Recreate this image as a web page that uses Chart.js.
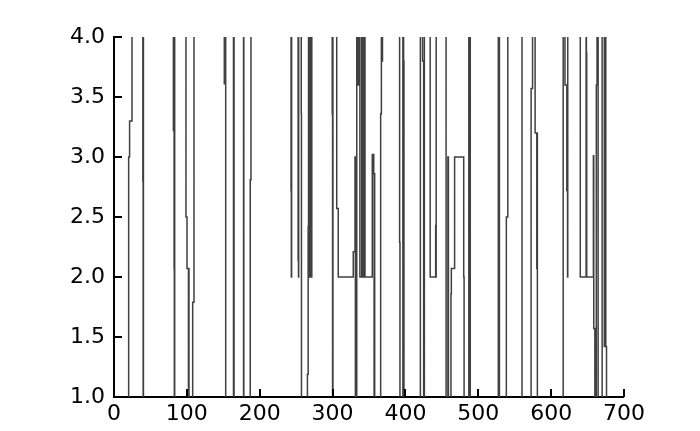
<!DOCTYPE html>
<html>
<head>
<meta charset="utf-8">
<script src="https://cdn.jsdelivr.net/npm/chart.js@4/dist/chart.umd.min.js"></script>
<style>
  html, body { margin: 0; padding: 0; background: #fff; }
  canvas { display: block; }
</style>
</head>
<body>
<canvas id="step_chart" width="700" height="431"></canvas>
<script>
"use strict";

// step series: x positions where the value changes, and the new value.
// 5 = above the plot, 0 = below it (clipped by the axes)
const stepX = [
	0, 20.1, 21.4, 24.7, 39.6, 40.0, 40.4, 81.5, 82.5, 82.8, 83.3,
	98.8, 100.2, 102.2, 102.6, 102.9, 108, 109.8, 151.4, 152.2, 153.3,
	164, 164.8, 177.8, 178.2, 187, 188, 243, 243.4, 243.8, 252.7, 253.2,
	253.5, 257, 257.3, 265.5, 266.5, 267, 268.5, 269.5, 270.5, 271.5,
	299.5, 300, 300.5, 305.7, 307.8, 328.4, 330.8, 331.3, 333.2, 334.5,
	335.5, 337.5, 340, 341, 343, 344.5, 354.5, 356.5, 357, 357.4, 357.8,
	366, 367, 368, 368.5, 392, 392.5, 396.5, 397.5, 398, 420.5, 423.5,
	425, 426, 434, 441.5, 441.8, 442.2, 455.8, 458.3, 459, 462.5, 463,
	467.5, 480, 480.5, 487, 488.5, 489, 527.5, 528.5, 529, 538.5, 540.5,
	560, 572.5, 574.5, 578, 580.3, 580.7, 581.1, 616.5, 619, 621.5, 622,
	622.5, 622.8, 640, 648, 648.4, 648.8, 658, 658.5, 660, 662, 663,
	664.5, 670, 673, 674, 675, 676, 700
];
const stepY = [
	0, 3.0, 3.3, 5, 2.8, 0, 5, 3.22, 2.07, 0, 5,
	2.5, 2.07, 0, 2.07, 0, 1.79, 5, 3.61, 5, 0,
	5, 0, 5, 0, 2.81, 5, 2.72, 2.0, 5, 2.14, 2.0,
	5, 3.36, 0, 1.19, 2.42, 5, 2.0, 5, 2.0, 5,
	3.36, 0, 5, 2.57, 2.0, 2.21, 3.0, 0, 5, 3.6,
	5, 2.0, 5, 2.0, 5, 2.0, 3.02, 2.86, 0, 2.86, 0,
	3.36, 5, 3.8, 5, 2.29, 0, 5, 3.8, 0, 5, 3.8,
	0, 5, 2.0, 2.43, 2.0, 5, 0, 3.0, 0, 1.86, 2.07,
	3.0, 2.0, 0, 5, 0, 5, 0, 5, 0, 2.5, 5,
	0, 3.57, 5, 3.2, 2.07, 3.2, 0, 5, 3.6, 2.72, 3.6,
	2.0, 5, 2.0, 5, 3.87, 2.0, 3.01, 1.57, 0, 3.6, 5,
	0, 5, 1.42, 5, 1.42, 0, 0
];
const xTicks = [0, 100, 200, 300, 400, 500, 600, 700];
const yTicks = [1.0, 1.5, 2.0, 2.5, 3.0, 3.5, 4.0];

const labelFont = { family: "DejaVu Sans", size: 22 };

const points = stepX.map((x, i) => ({ x: x, y: stepY[i] }));

// ticks point into the plot, so they are drawn here instead of by the scales
const inwardTicks = {
	id: "inwardTicks",
	afterDraw(chart) {
		const { ctx, chartArea, scales } = chart;
		ctx.save();
		ctx.strokeStyle = "#000";
		ctx.lineWidth = 2;
		ctx.beginPath();
		xTicks.forEach((v) => {
			const px = Math.round(scales.x.getPixelForValue(v));
			ctx.moveTo(px, chartArea.bottom);
			ctx.lineTo(px, chartArea.bottom - 8);
		});
		yTicks.forEach((v) => {
			const py = Math.round(scales.y.getPixelForValue(v));
			ctx.moveTo(chartArea.left, py);
			ctx.lineTo(chartArea.left + 8, py);
		});
		ctx.stroke();
		ctx.restore();
	},
};

const ctx = document.getElementById("step_chart");
new Chart(ctx, {
	type: "line",
	data: {
		datasets: [
			{
				data: points,
				stepped: true,
				borderColor: "#404040",
				borderWidth: 1.5,
				pointRadius: 0,
				fill: false,
				clip: 0,
			},
		],
	},
	options: {
		responsive: false,
		animation: false,
		layout: { padding: { top: 37, right: 76, left: 0, bottom: 0 } },
		plugins: {
			legend: { display: false },
			tooltip: { enabled: false },
		},
		scales: {
			x: {
				type: "linear",
				min: 0,
				max: 700,
				afterFit: (scale) => {
					scale.height = 34;
				},
				afterBuildTicks: (scale) => {
					scale.ticks = xTicks.map((v) => ({ value: v }));
				},
				grid: { drawOnChartArea: false, drawTicks: false, lineWidth: 0 },
				border: { display: true, color: "#000", width: 2 },
				ticks: {
					color: "#000",
					font: labelFont,
					padding: 4,
					maxRotation: 0,
					autoSkip: false,
				},
			},
			y: {
				type: "linear",
				min: 1,
				max: 4,
				afterFit: (scale) => {
					scale.width = 114;
				},
				afterBuildTicks: (scale) => {
					scale.ticks = yTicks.map((v) => ({ value: v }));
				},
				grid: { drawOnChartArea: false, drawTicks: false, lineWidth: 0 },
				border: { display: true, color: "#000", width: 2 },
				ticks: {
					color: "#000",
					font: labelFont,
					padding: 9,
					autoSkip: false,
					callback: (v) => Number(v).toFixed(1),
				},
			},
		},
	},
	plugins: [inwardTicks],
});
</script>
</body>
</html>
